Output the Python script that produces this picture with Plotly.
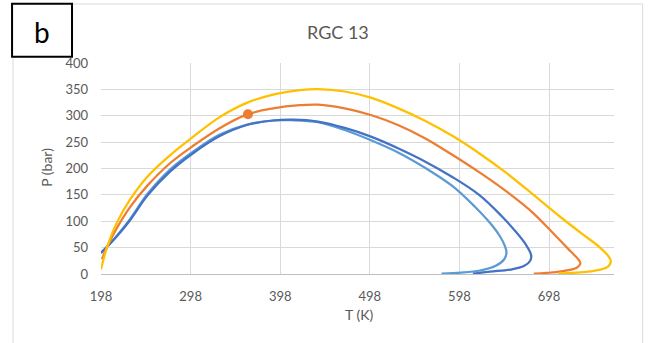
import plotly.graph_objects as go

# ---------------- data ----------------
lb_T = [198, 205, 215, 230, 250, 275, 300, 330, 360, 390, 410, 440, 470, 500, 530, 560, 590, 615, 632, 643, 649, 650.5, 648, 638, 621, 600, 578]
lb_P = [40, 52, 71, 103, 152, 198, 231, 264, 283, 291, 291.5, 288, 273, 253, 230, 201, 167, 128, 97, 72, 52, 40, 28, 15, 6.6, 2.5, 0.5]

db_T = [198, 205, 215, 230, 250, 275, 300, 330, 360, 390, 412, 440, 470, 500, 530, 560, 590, 620, 645, 660, 672, 678, 677, 670, 655, 632, 613]
db_P = [40, 52, 70, 101, 149, 194, 228, 261, 282, 291, 292.5, 289, 277, 260, 238, 213, 184, 150, 110, 82, 56, 36, 25, 15, 8.5, 4.5, 0.5]

or_T = [199, 205, 215, 230, 250, 275, 300, 330, 362, 390, 420, 440, 470, 500, 530, 560, 590, 620, 650, 680, 705, 722, 731, 733, 729, 712, 695, 681]
or_P = [28, 52, 85, 126, 168, 210, 242, 276, 303, 314, 320, 321, 314, 301, 282, 257, 226, 193, 157, 116, 73, 43, 27, 20, 12, 5, 2, 0.5]

ye_T = [198, 205, 215, 230, 250, 275, 300, 330, 360, 390, 420, 440, 470, 500, 530, 560, 590, 620, 650, 680, 710, 735, 755, 765, 767, 763, 748, 728, 708]
ye_P = [9, 52, 95, 140, 185, 225, 259, 297, 324, 340, 348.5, 350.5, 346, 334, 314, 290, 262, 229, 192, 151, 109, 76, 50, 32, 24, 13, 6, 2.5, 0.5]

crit_T = [362]
crit_P = [303]

x_ticks = [198, 298, 398, 498, 598, 698]
y_ticks = [0, 50, 100, 150, 200, 250, 300, 350, 400]

# ---------------- figure ----------------
W, H = 649, 343
L, R, T_, B = 101, 614.3, 63.3, 274.2

def px(x):
    return (x - L) / (R - L)

def py(y):
    return (B - y) / (B - T_)

FONT = "Lato"
GREY = "#595959"

fig = go.Figure()
series = [
    (lb_T, lb_P, "#5B9BD5"),
    (db_T, db_P, "#4472C4"),
    (or_T, or_P, "#ED7D31"),
    (ye_T, ye_P, "#FFC000"),
]
for tx, ty, col in series:
    fig.add_trace(go.Scatter(x=tx, y=ty, mode="lines",
                             line=dict(color=col, width=2.25, shape="spline", smoothing=1.0),
                             showlegend=False, hoverinfo="skip"))
fig.add_trace(go.Scatter(x=crit_T, y=crit_P, mode="markers",
                         marker=dict(color="#ED7D31", size=10),
                         showlegend=False, hoverinfo="skip"))

fig.update_layout(
    width=W, height=H,
    margin=dict(l=L, r=W - R, t=T_, b=H - B, pad=0),
    paper_bgcolor="white", plot_bgcolor="white",
    font=dict(family=FONT, color=GREY, size=13),
    xaxis=dict(range=[198, 770.5], tickmode="array", tickvals=x_ticks,
               ticktext=[str(v) for v in x_ticks],
               showgrid=True, gridcolor="#D9D9D9", gridwidth=1,
               showline=True, linecolor="#BFBFBF", linewidth=1,
               zeroline=False, ticks="", ticklabelstandoff=10,
               tickfont=dict(size=13, color=GREY, family=FONT)),
    yaxis=dict(range=[0, 400], tickmode="array", tickvals=y_ticks,
               ticktext=[str(v) for v in y_ticks],
               showgrid=True, gridcolor="#D9D9D9", gridwidth=1,
               showline=False, zeroline=False, ticks="", ticklabelstandoff=12,
               tickfont=dict(size=13, color=GREY, family=FONT)),
)

shapes = [
    # outer chart border (top, left, right)
    dict(type="line", xref="paper", yref="paper", x0=px(72), x1=px(643), y0=py(4.3), y1=py(4.3),
         line=dict(color="#D9D9D9", width=1)),
    dict(type="line", xref="paper", yref="paper", x0=px(13), x1=px(13), y0=py(57), y1=py(345),
         line=dict(color="#D9D9D9", width=1)),
    dict(type="line", xref="paper", yref="paper", x0=px(643), x1=px(643), y0=py(4.3), y1=py(345),
         line=dict(color="#D9D9D9", width=1)),
    # "b" box
    dict(type="rect", xref="paper", yref="paper", x0=px(12), x1=px(72), y0=py(57), y1=py(4),
         line=dict(color="black", width=2), fillcolor="white"),
]
fig.update_layout(shapes=shapes)

ann = [
    dict(text="b", x=px(42), y=py(32), xref="paper", yref="paper", showarrow=False,
         xanchor="center", yanchor="middle", font=dict(size=28, color="black", family=FONT)),
    dict(text="RGC 13", x=px(338), y=py(32), xref="paper", yref="paper", showarrow=False,
         xanchor="center", yanchor="middle", font=dict(size=18, color=GREY, family=FONT)),
    dict(text="T (K)", x=px(359), y=py(315), xref="paper", yref="paper", showarrow=False,
         xanchor="center", yanchor="middle", font=dict(size=14, color=GREY, family=FONT)),
    dict(text="P (bar)", x=px(47), y=py(168), xref="paper", yref="paper", showarrow=False,
         xanchor="center", yanchor="middle", textangle=-90,
         font=dict(size=14, color=GREY, family=FONT)),
]
fig.update_layout(annotations=ann)

fig.write_html("out.html")
